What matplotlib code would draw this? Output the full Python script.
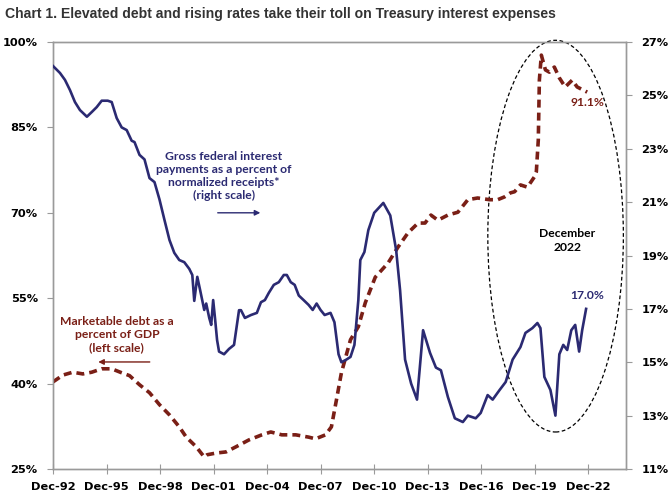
import matplotlib.pyplot as plt
from matplotlib.patches import Ellipse

# interest payments as % of normalized receipts (right scale)
interest_years = [
    1992.92, 1993.31, 1993.59, 1993.87, 1994.15, 1994.43, 1994.82, 1995.10, 1995.37, 1995.65,
    1995.99, 1996.21, 1996.49, 1996.77, 1997.05, 1997.33, 1997.49, 1997.77, 1998.05, 1998.33,
    1998.61, 1998.89, 1999.17, 1999.45, 1999.72, 2000.00, 2000.28, 2000.56, 2000.73, 2000.84,
    2001.01, 2001.17, 2001.40, 2001.51, 2001.68, 2001.79, 2001.90, 2002.01, 2002.12, 2002.23,
    2002.51, 2002.79, 2003.07, 2003.35, 2003.46, 2003.68, 2004.02, 2004.35, 2004.58, 2004.80,
    2005.02, 2005.30, 2005.58, 2005.86, 2006.03, 2006.25, 2006.47, 2006.70, 2006.97, 2007.25,
    2007.48, 2007.70, 2007.92, 2008.15, 2008.48, 2008.70, 2008.93, 2009.09, 2009.37, 2009.60,
    2009.82, 2010.04, 2010.15, 2010.38, 2010.60, 2010.93, 2011.44, 2011.83, 2012.16, 2012.38,
    2012.66, 2013.00, 2013.33, 2013.67, 2014.06, 2014.39, 2014.67, 2015.06, 2015.45, 2015.90,
    2016.18, 2016.62, 2016.90, 2017.29, 2017.57, 2017.96, 2018.30, 2018.69, 2019.13, 2019.41,
    2019.80, 2020.08, 2020.25, 2020.47, 2020.81, 2021.09, 2021.31, 2021.53, 2021.75, 2021.98,
    2022.20, 2022.42, 2022.59, 2022.81,
]
interest_pct = [
    26.1, 25.84, 25.58, 25.2, 24.75, 24.45, 24.2, 24.38, 24.56, 24.8,
    24.8, 24.75, 24.15, 23.8, 23.7, 23.3, 23.25, 22.77, 22.6, 21.9,
    21.75, 21.1, 20.33, 19.58, 19.1, 18.83, 18.75, 18.5, 18.27, 17.3,
    18.2, 17.7, 16.96, 17.2, 16.66, 16.4, 17.33, 16.6, 15.83, 15.4,
    15.3, 15.5, 15.65, 16.95, 16.95, 16.66, 16.77, 16.85, 17.25, 17.33,
    17.6, 17.9, 18.0, 18.27, 18.27, 18.0, 17.9, 17.5, 17.33, 17.15,
    16.96, 17.2, 16.96, 16.77, 16.85, 16.5, 15.3, 15.0, 15.1, 15.2,
    15.65, 17.33, 18.83, 19.13, 19.95, 20.6, 20.97, 20.5, 19.2, 17.7,
    15.1, 14.2, 13.6, 16.2, 15.35, 14.8, 14.7, 13.7, 12.9, 12.76,
    13.0, 12.9, 13.1, 13.77, 13.6, 13.96, 14.26, 15.1, 15.57, 16.1,
    16.28, 16.47, 16.28, 14.45, 13.96, 13.0, 15.3, 15.65, 15.46, 16.2,
    16.4, 15.4, 16.2, 17.0,
]

# marketable debt as % of GDP (left scale)
debt_years = [
    1992.92, 1993.48, 1994.03, 1994.59, 1995.09, 1995.65, 1996.21, 1996.77, 1997.21, 1997.77,
    1998.33, 1998.89, 1999.45, 2000.00, 2000.39, 2000.95, 2001.40, 2001.56, 2002.06, 2002.62,
    2003.18, 2003.90, 2004.63, 2005.13, 2005.75, 2006.53, 2007.25, 2007.64, 2008.20, 2008.53,
    2008.81, 2009.09, 2009.60, 2010.04, 2010.43, 2010.99, 2011.71, 2012.27, 2012.83, 2013.39,
    2013.78, 2014.11, 2014.50, 2015.06, 2015.62, 2016.18, 2016.73, 2017.40, 2017.85, 2018.24,
    2018.57, 2018.80, 2019.13, 2019.52, 2019.91, 2020.02, 2020.13, 2020.19, 2020.30, 2020.53,
    2020.75, 2021.03, 2021.31, 2021.64, 2022.03, 2022.31, 2022.87,
]
debt_pct = [
    40.3, 41.5, 42.0, 41.7, 42.0, 42.6, 42.6, 41.9, 41.4, 39.8,
    38.4, 36.3, 34.5, 32.4, 30.6, 28.9, 27.1, 27.5, 27.8, 28.0,
    28.9, 30.1, 31.0, 31.5, 31.0, 31.0, 30.6, 30.3, 31.0, 32.4,
    37.1, 41.9, 47.7, 50.0, 54.2, 58.7, 61.2, 64.0, 66.5, 68.2,
    68.2, 69.6, 68.7, 69.6, 70.1, 72.3, 72.6, 72.3, 72.3, 72.8,
    73.5, 73.7, 74.9, 74.5, 76.3, 77.2, 82.8, 93.3, 97.7, 95.1,
    94.7, 95.6, 93.7, 92.1, 93.3, 92.1, 91.2,
]

tick_years = [1992.92 + 3 * i for i in range(11)]
tick_labels = ["Dec-92", "Dec-95", "Dec-98", "Dec-01", "Dec-04", "Dec-07",
               "Dec-10", "Dec-13", "Dec-16", "Dec-19", "Dec-22"]
left_ticks = [25, 40, 55, 70, 85, 100]
right_ticks = [11, 13, 15, 17, 19, 21, 23, 25, 27]

navy = "#2b2a72"
maroon = "#7a1f16"
spine_gray = "#9a9a9a"
note_font = ["Lato", "DejaVu Sans"]

plt.rcParams["font.family"] = ["DejaVu Sans"]

fig = plt.figure(figsize=(6.71, 5.0), dpi=100)
ax = fig.add_axes([0.079, 0.062, 0.854, 0.854])
ax2 = ax.twinx()

ax.plot(debt_years, debt_pct, color=maroon, lw=2.6, dashes=(2.2, 1.4), zorder=3)
ax2.plot(interest_years, interest_pct, color=navy, lw=1.9, zorder=3)

ax.set_xlim(1992.92, 2025.05)
ax.set_ylim(25, 100)
ax2.set_ylim(11, 27)

ax.set_xticks(tick_years)
ax.set_xticklabels(tick_labels)
ax.set_yticks(left_ticks)
ax.set_yticklabels([f"{v}%" for v in left_ticks])
ax2.set_yticks(right_ticks)
ax2.set_yticklabels([f"{v}%" for v in right_ticks])

for a in (ax, ax2):
    for s in a.spines.values():
        s.set_color(spine_gray)
        s.set_linewidth(1.0)
    a.tick_params(colors=spine_gray, labelcolor="black", labelsize=8.2, length=4)
    for lab in a.get_xticklabels() + a.get_yticklabels():
        lab.set_fontweight("bold")
ax.tick_params(axis="x", direction="inout", length=7, pad=6)
ax.tick_params(axis="y", direction="out", pad=7)
ax2.tick_params(axis="y", direction="out", pad=7)

# circle around the latest readings
ell = Ellipse((2021.1, 65.9), 7.6, 68.8, fill=False, ec="black", lw=0.9,
              ls=(0, (3, 2)), clip_on=False, zorder=2)
ax.add_patch(ell)

ax.text(2002.5, 76.5, "Gross federal interest\npayments as a percent of\nnormalized receipts*\n(right scale)",
        color=navy, fontsize=8.7, fontweight="bold", ha="center", va="center", linespacing=1.2,
        family=note_font)
ax.annotate("", xy=(2004.7, 70.0), xytext=(2002.0, 70.0),
            arrowprops=dict(arrowstyle="-|>", color=navy, lw=1.0, mutation_scale=8))

ax.text(1996.5, 48.6, "Marketable debt as a\npercent of GDP\n(left scale)",
        color=maroon, fontsize=8.7, fontweight="bold", ha="center", va="center", linespacing=1.2,
        family=note_font)
ax.annotate("", xy=(1995.3, 43.8), xytext=(1998.5, 43.8),
            arrowprops=dict(arrowstyle="-|>", color=maroon, lw=1.0, mutation_scale=8))

ax.text(2021.75, 65.1, "December\n2022", color="black", fontsize=8.7, fontweight="bold",
        ha="center", va="center", linespacing=1.3, family=note_font)
ax.text(2022.87, 55.4, "17.0%", color=navy, fontsize=8.7, fontweight="bold",
        ha="center", va="center", family=note_font)
ax.text(2022.87, 89.3, "91.1%", color=maroon, fontsize=8.7, fontweight="bold",
        ha="center", va="center", family=note_font)

fig.text(0.008, 0.972, "Chart 1. Elevated debt and rising rates take their toll on Treasury interest expenses",
         fontsize=10.1, fontweight="bold", color="#333333", ha="left", va="center",
         family=["Liberation Sans", "DejaVu Sans"])

fig.savefig("out.png", dpi=100)
